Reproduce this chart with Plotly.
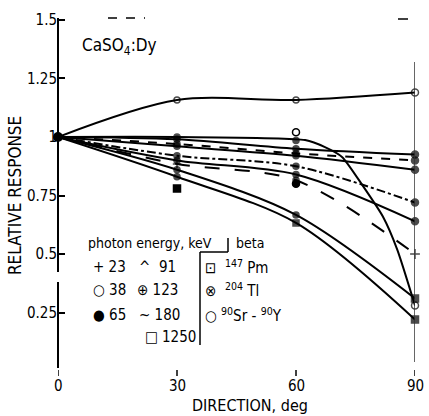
import plotly.graph_objects as go

# ---- data ----
angles = [0, 30, 60, 90]
resp_38 = [1.00, 1.158, 1.158, 1.19]
resp_sr90 = [1.00, 1.00, 0.985, 0.28]
# drawn fit curve for 90Sr-90Y
sr90_curve_x = [0, 30, 62.3, 67.3, 71.6, 76.9, 81.9, 85.5, 90]
sr90_curve_y = [1.00, 1.00, 0.987, 0.957, 0.915, 0.79, 0.66, 0.52, 0.28]
resp_1250 = [1.00, 0.99, 0.95, 0.925]
resp_pm147 = [1.00, 0.97, 0.93, 0.90]
resp_tl204 = [1.00, 0.96, 0.92, 0.86]
resp_180 = [1.00, 0.92, 0.875, 0.72]
resp_123 = [1.00, 0.90, 0.84, 0.64]
resp_23 = [1.00, 0.885, 0.815, 0.50]
resp_91 = [1.00, 0.86, 0.667, 0.31]
resp_65 = [1.00, 0.83, 0.633, 0.22]
extra_x = [30, 60, 60]
extra_y = [0.78, 0.80, 1.02]
extra_sym = ["square", "circle", "circle-open"]

x_ticks = [0, 30, 60, 90]
x_ticktext = ["0", "30", "60", "90"]
y_ticks = [0.25, 0.5, 0.75, 1.0, 1.25, 1.5]
y_ticktext = ["0.25", "0.5", "0.75", "1", "1.25", "1.5"]

W, H = 429, 416
L, R, T, B = 58, 14, 16, 48
FONT = "DejaVu Sans Condensed, Liberation Sans Narrow, DejaVu Sans, sans-serif"


def px(xp):
    return (xp - L) / (W - L - R)


def py(yp):
    return (H - B - yp) / (H - T - B)


fig = go.Figure()

series = [
    (resp_38, "solid", ["circle", "circle-open", "circle-open", "circle-open"]),
    (resp_1250, "solid", ["circle", "circle", "circle", "circle"]),
    (resp_pm147, "dash", ["circle", "circle", "circle", "circle"]),
    (resp_tl204, "solid", ["circle", "circle", "circle", "circle"]),
    (resp_180, "dashdot", ["circle", "circle", "circle", "circle"]),
    (resp_123, "solid", ["circle", "circle", "circle", "circle"]),
    (resp_23, "longdash", ["circle", "cross-thin", "circle", "cross-thin"]),
    (resp_91, "solid", ["circle", "circle", "circle", "square"]),
    (resp_65, "solid", ["circle", "circle", "square", "square"]),
]

for ys, dash, syms in series:
    fig.add_trace(go.Scatter(
        x=angles, y=ys, mode="lines+markers",
        line=dict(color="black", width=2, dash=dash, shape="spline", smoothing=0.9),
        marker=dict(symbol=syms, size=[0, 6, 6, 7], color="black",
                    line=dict(color="black", width=1.5)),
        cliponaxis=False, showlegend=False, hoverinfo="skip",
    ))

# 90Sr-90Y: fitted line + measured points
fig.add_trace(go.Scatter(
    x=sr90_curve_x, y=sr90_curve_y, mode="lines",
    line=dict(color="black", width=2, shape="spline", smoothing=0.6),
    cliponaxis=False, showlegend=False, hoverinfo="skip",
))
fig.add_trace(go.Scatter(
    x=angles, y=resp_sr90, mode="markers",
    marker=dict(symbol=["circle", "circle", "circle", "circle-open"], size=[0, 6, 6, 7],
                color="black", line=dict(color="black", width=1.5)),
    cliponaxis=False, showlegend=False, hoverinfo="skip",
))

fig.add_trace(go.Scatter(
    x=extra_x, y=extra_y, mode="markers",
    marker=dict(symbol=extra_sym, size=7, color="black", line=dict(color="black", width=1.5)),
    cliponaxis=False, showlegend=False, hoverinfo="skip",
))
# common origin point
fig.add_trace(go.Scatter(
    x=[angles[0]], y=[resp_38[0]], mode="markers",
    marker=dict(symbol="circle", size=10, color="black"),
    cliponaxis=False, showlegend=False, hoverinfo="skip",
))

shapes = []
# broken left axis
shapes.append(dict(type="line", xref="paper", yref="paper", x0=0, x1=0, y0=py(18), y1=py(272),
                   line=dict(color="black", width=2)))
shapes.append(dict(type="line", xref="paper", yref="paper", x0=0, x1=0, y0=py(282), y1=py(368),
                   line=dict(color="black", width=2)))
# right vertical line at 90
shapes.append(dict(type="line", xref="x", yref="paper", x0=90, x1=90, y0=py(62), y1=py(362),
                   line=dict(color="#333", width=1.5)))
# top remnants
shapes.append(dict(type="line", xref="paper", yref="paper", x0=px(108), x1=px(145), y0=py(18), y1=py(18),
                   line=dict(color="black", width=1.5, dash="dash")))
shapes.append(dict(type="line", xref="paper", yref="paper", x0=px(398), x1=px(408), y0=py(19), y1=py(19),
                   line=dict(color="black", width=1.5)))
# legend bracket
shapes.append(dict(type="line", xref="paper", yref="paper", x0=px(200), x1=px(200), y0=py(252), y1=py(345),
                   line=dict(color="black", width=1.5)))
shapes.append(dict(type="line", xref="paper", yref="paper", x0=px(200), x1=px(228), y0=py(252), y1=py(252),
                   line=dict(color="black", width=1.5)))
shapes.append(dict(type="line", xref="paper", yref="paper", x0=px(228), x1=px(228), y0=py(238), y1=py(252),
                   line=dict(color="black", width=1.5)))
# small x tick marks above the labels
for xv in x_ticks:
    shapes.append(dict(type="line", xref="x", yref="paper", x0=xv, x1=xv, y0=py(370), y1=py(376),
                       line=dict(color="black", width=1.5)))

ann = []


def text(x, y, s, size=14, anchor="left"):
    ann.append(dict(xref="paper", yref="paper", x=px(x), y=py(y), text=s, showarrow=False,
                    xanchor=anchor, yanchor="middle", font=dict(family=FONT, size=size, color="black")))


text(80, 47, "CaSO<sub>4</sub>:Dy", 17)
text(86, 243, "photon energy, keV", 14)
text(234, 243, "beta", 14)
text(91, 267, "+ 23", 15)
text(137, 267, "^  91", 15)
text(203, 267, "⊡  <sup>147</sup> Pm", 15)
text(91, 290, "○ 38", 15)
text(135, 290, "⊕ 123", 15)
text(203, 290, "⊗  <sup>204</sup> Tl", 15)
text(91, 315, "● 65", 15)
text(137, 315, "~ 180", 15)
text(203, 315, "○ <sup>90</sup>Sr - <sup>90</sup>Y", 15)
text(143, 337, "□ 1250", 15)
text(250, 405, "DIRECTION, deg", 16, "center")
for xv, tt in zip(x_ticks, x_ticktext):
    ann.append(dict(xref="x", yref="paper", x=xv, y=py(386), text=tt, showarrow=False,
                    xanchor="center", yanchor="middle", font=dict(family=FONT, size=15, color="black")))
ann.append(dict(xref="paper", yref="paper", x=px(15), y=py(196), text="RELATIVE RESPONSE",
                showarrow=False, textangle=-90, xanchor="center", yanchor="middle",
                font=dict(family=FONT, size=17, color="black")))

fig.update_layout(
    width=W, height=H, margin=dict(l=L, r=R, t=T, b=B),
    paper_bgcolor="white", plot_bgcolor="white",
    shapes=shapes, annotations=ann,
    xaxis=dict(range=[0, 90], tickvals=x_ticks, showticklabels=False, ticks="",
               showgrid=False, zeroline=False, showline=False),
    yaxis=dict(range=[0.013, 1.517], tickvals=y_ticks, ticktext=y_ticktext, ticks="inside",
               ticklen=7, tickwidth=1.5, tickcolor="black", showgrid=False, zeroline=False,
               showline=False, tickfont=dict(family=FONT, size=15, color="black")),
)

fig.write_html("out.html", config={"displayModeBar": False},
               post_script="document.body.style.margin='0';document.body.style.overflow='hidden';")
